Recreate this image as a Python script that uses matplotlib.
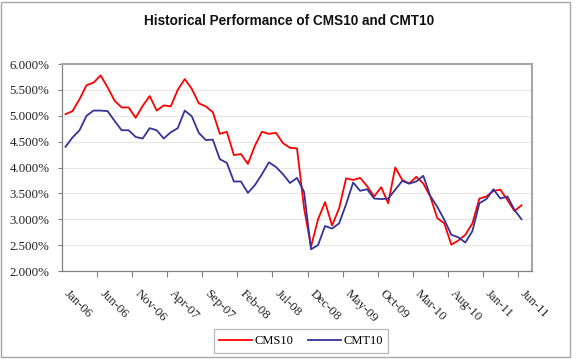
import matplotlib
matplotlib.use("Agg")
import matplotlib.pyplot as plt
from matplotlib.patches import Rectangle
from matplotlib.ticker import FixedLocator, FuncFormatter
from matplotlib.transforms import ScaledTranslation

# Monthly data Jan-06 .. Jun-11 (66 months)
months = ["Jan-06", "Jun-06", "Nov-06", "Apr-07", "Sep-07", "Feb-08", "Jul-08",
          "Dec-08", "May-09", "Oct-09", "Mar-10", "Aug-10", "Jan-11", "Jun-11"]

cms10 = [5.03, 5.09, 5.32, 5.59, 5.64, 5.78, 5.55, 5.29, 5.16, 5.16,
         4.96, 5.19, 5.38, 5.10, 5.20, 5.18, 5.50, 5.71, 5.52, 5.24,
         5.18, 5.07, 4.65, 4.69, 4.24, 4.26, 4.07, 4.42, 4.69, 4.65,
         4.67, 4.47, 4.38, 4.37, 3.22, 2.47, 3.00, 3.33, 2.88, 3.21,
         3.79, 3.76, 3.80, 3.64, 3.44, 3.62, 3.31, 4.00, 3.76, 3.69,
         3.82, 3.69, 3.44, 3.02, 2.92, 2.51, 2.59, 2.70, 2.92, 3.40,
         3.44, 3.55, 3.57, 3.37, 3.16, 3.27]

cmt10 = [4.40, 4.58, 4.72, 5.00, 5.10, 5.10, 5.09, 4.90, 4.72, 4.72,
         4.59, 4.56, 4.76, 4.72, 4.56, 4.68, 4.76, 5.10, 4.99, 4.67,
         4.53, 4.54, 4.16, 4.09, 3.73, 3.73, 3.51, 3.66, 3.87, 4.10,
         4.01, 3.87, 3.70, 3.80, 3.53, 2.42, 2.50, 2.87, 2.82, 2.92,
         3.29, 3.71, 3.55, 3.58, 3.40, 3.39, 3.40, 3.57, 3.74, 3.69,
         3.73, 3.84, 3.45, 3.24, 2.99, 2.70, 2.65, 2.55, 2.77, 3.31,
         3.39, 3.58, 3.40, 3.44, 3.18, 3.00]

y_ticks = [2.0, 2.5, 3.0, 3.5, 4.0, 4.5, 5.0, 5.5, 6.0]

W, H = 578, 359
fig = plt.figure(figsize=(W / 100, H / 100), dpi=100)
fig.patch.set_facecolor("white")

# outer chart border
fig.patches.append(Rectangle((1 / W, 2 / H), 569 / W, 355 / H, transform=fig.transFigure,
                             fill=False, edgecolor="#A6A6A6", linewidth=1.0))

ax = fig.add_axes([62 / W, 1 - 271 / H, 470 / W, 207 / H])

x = list(range(len(cms10)))
ax.plot(x, cms10, color="#FF0000", lw=1.3, label="CMS10", zorder=3)
ax.plot(x, cmt10, color="#333399", lw=1.3, label="CMT10", zorder=3)

ax.set_xlim(-0.5, 66.5)
ax.set_ylim(2.0, 6.0)
ax.set_yticks(y_ticks)
ax.yaxis.set_major_formatter(FuncFormatter(lambda v, p: f"{v:.3f}%"))
ax.grid(axis="y", color="#E6E6E6", lw=0.8, zorder=0)

major = [5 * k for k in range(len(months))]
ax.xaxis.set_major_locator(FixedLocator(major))
ax.set_xticklabels(months)
ax.xaxis.set_minor_locator(FixedLocator([-0.5 + 5 * k for k in range(1, 14)]))
ax.tick_params(axis="x", which="major", length=0, pad=12)
ax.tick_params(axis="x", which="minor", length=4, direction="out", color="#808080", width=0.8)
ax.tick_params(axis="y", length=3, direction="out", color="#808080", width=0.8, pad=6)

shift = ScaledTranslation(5 / 100, 0, fig.dpi_scale_trans)
for lbl in ax.get_xticklabels():
    lbl.set_rotation(-45)
    lbl.set_ha("left")
    lbl.set_va("top")
    lbl.set_rotation_mode("anchor")
    lbl.set_family("Liberation Serif")
    lbl.set_fontsize(9.3)
    lbl.set_color("#222222")
    lbl.set_transform(lbl.get_transform() + shift)
for lbl in ax.get_yticklabels():
    lbl.set_family("Liberation Serif")
    lbl.set_fontsize(9.3)
    lbl.set_color("#222222")

for s in ["left", "bottom"]:
    ax.spines[s].set_color("#808080")
    ax.spines[s].set_linewidth(0.9)
for s in ["top", "right"]:
    ax.spines[s].set_color("#A6A6A6")
    ax.spines[s].set_linewidth(1.5)

fig.text(289 / W, 1 - 21 / H, "Historical Performance of CMS10 and CMT10",
         ha="center", va="center", fontsize=9.8, fontweight="bold",
         family="Liberation Sans", color="#111111")

leg = ax.legend(loc="center", bbox_to_anchor=(301 / W, 1 - 341 / H),
                bbox_transform=fig.transFigure, ncol=2, frameon=True, fancybox=False,
                edgecolor="#A6A6A6", prop={"family": "Liberation Serif", "size": 9},
                handlelength=2.6, handletextpad=0.2, columnspacing=1.2,
                borderpad=0.45)
leg.get_frame().set_linewidth(0.9)

fig.savefig("out.png", dpi=100)
